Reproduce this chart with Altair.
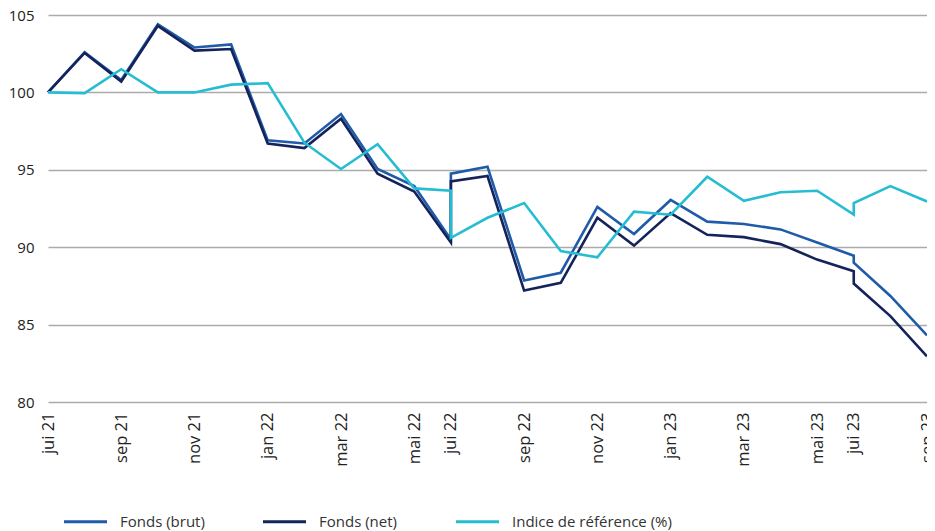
import altair as alt
import pandas as pd

# x slots (25 monthly slots, jul 22 and jul 23 slots hold two points each)
slots = [0, 1, 2, 3, 4, 5, 6, 7, 8, 9, 10, 11, 11, 12, 13, 14, 15, 16, 17, 18, 19, 20, 21, 22, 22, 23, 24]

fonds_brut = [100, 102.6, 100.8, 104.4, 102.9, 103.1, 96.9, 96.7, 98.6, 95.05, 93.95, 90.5, 94.75,
              95.2, 87.85, 88.35, 92.6, 90.85, 93.05, 91.65, 91.5, 91.15, 90.3, 89.45, 89.0, 86.85, 84.3]
fonds_net = [100, 102.55, 100.7, 104.3, 102.7, 102.8, 96.7, 96.4, 98.3, 94.75, 93.6, 90.3, 94.25,
             94.6, 87.2, 87.7, 91.9, 90.1, 92.2, 90.8, 90.65, 90.2, 89.2, 88.45, 87.65, 85.55, 82.95]
indice = [100, 99.95, 101.5, 100, 100, 100.5, 100.6, 96.75, 95.05, 96.65, 93.8, 93.65, 90.6,
          91.9, 92.85, 89.75, 89.35, 92.3, 92.1, 94.55, 93.0, 93.55, 93.65, 92.1, 92.85, 93.95, 92.95]

series_names = ["Fonds (brut)", "Fonds (net)", "Indice de référence (%)"]
series_colors = ["#1f5ba8", "#15235b", "#26bdd3"]

tick_positions = [0, 2, 4, 6, 8, 10, 11, 13, 15, 17, 19, 21, 22, 24]
tick_labels = ["jui 21", "sep 21", "nov 21", "jan 22", "mar 22", "mai 22", "jui 22",
               "sep 22", "nov 22", "jan 23", "mar 23", "mai 23", "jui 23", "sep 23"]

y_ticks = [80, 85, 90, 95, 100, 105]

rows = []
for name, vals in zip(series_names, [fonds_brut, fonds_net, indice]):
    for i, (s, v) in enumerate(zip(slots, vals)):
        rows.append({"slot": s, "seq": i, "serie": name, "valeur": v})
df = pd.DataFrame(rows)

label_map = "{" + ",".join(f"'{p}':'{l}'" for p, l in zip(tick_positions, tick_labels)) + "}"
label_expr = f"{label_map}[toString(datum.value)]"

FONT = "Open Sans"

chart = alt.Chart(df).mark_line(strokeWidth=2.6, strokeJoin="miter").encode(
    x=alt.X("slot:Q",
            scale=alt.Scale(domain=[0, 24], nice=False, zero=False),
            axis=alt.Axis(values=tick_positions, labelExpr=label_expr, labelAngle=-90,
                          grid=False, domain=False, ticks=False, title=None,
                          labelFontSize=16.5, labelFont=FONT, labelColor="#222",
                          labelPadding=10, labelOverlap=False, labelBound=False,
                          labelFlush=False)),
    y=alt.Y("valeur:Q",
            scale=alt.Scale(domain=[80, 105], nice=False, zero=False),
            axis=alt.Axis(values=y_ticks, grid=True, gridColor="#ababab", gridWidth=1.6,
                          domain=False, ticks=False, title=None,
                          labelFontSize=15, labelFont=FONT, labelColor="#222",
                          labelPadding=14)),
    color=alt.Color("serie:N",
                    scale=alt.Scale(domain=series_names, range=series_colors),
                    legend=alt.Legend(title=None, orient="none", legendX=14, legendY=483,
                                      direction="horizontal", symbolType="stroke",
                                      symbolSize=1850, symbolStrokeWidth=3,
                                      labelFontSize=15, labelFont=FONT, labelColor="#333",
                                      labelOffset=11, columnPadding=51, padding=0,
                                      labelLimit=300)),
    order=alt.Order("seq:Q"),
).properties(
    width=879,
    height=387,
    autosize=alt.AutoSizeParams(type="none"),
    padding={"left": 40, "top": 7, "right": 0, "bottom": 140},
).configure_view(stroke=None)

chart.save("out.html", embed_options={"renderer": "svg", "actions": False})
